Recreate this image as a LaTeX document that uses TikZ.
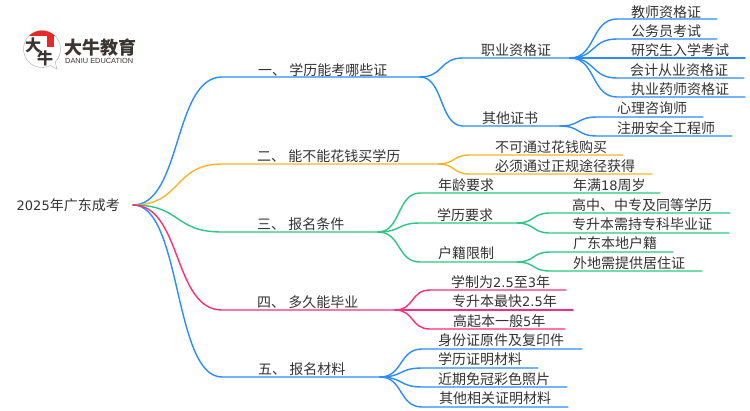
\documentclass[tikz,border=0pt]{standalone}
\usepackage{fontspec}
\usetikzlibrary{calc}
\setmainfont{Noto Sans CJK SC}
\newfontfamily\latinlogo{Liberation Sans}
\newfontfamily\digitfont{DejaVu Sans}
\newcommand{\dg}[1]{{\digitfont\fontsize{13}{14}\selectfont #1}}
\definecolor{mblue}{HTML}{2A8CFF}
\definecolor{morange}{HTML}{FFB327}
\definecolor{mgreen}{HTML}{2CC784}
\definecolor{mpink}{HTML}{FF2D78}
\definecolor{mtext}{HTML}{333333}
\definecolor{logored}{HTML}{E52A2A}
\definecolor{logodark}{HTML}{3A3533}
\tikzset{
  curve/.style={line width=1.4pt,line cap=round},
  lbl/.style={anchor=base west,inner sep=0pt,text=mtext,font=\fontsize{14}{14}\selectfont},
  bubble/.style={draw=black!25,line width=0.6pt,fill=white},
}
% name, parent, colour, start x, y, end x, text x, text y, text
\newcommand{\mmitem}[9]{%
  \coordinate (#1-s) at (#4,#5);
  \coordinate (#1-e) at (#6,#5);
  \draw[curve,#3] let \p1=(#2),\p2=(#1-s),\n1={0.55*(\x2-\x1)} in
    (#2) .. controls ($(\p1)+(\n1,0pt)$) and ($(\p2)-(\n1,0pt)$) .. (#1-s) -- (#1-e);
  \node[lbl] (#1) at (#7,#8+5) {#9};
}
\begin{document}
\begin{tikzpicture}[x=1pt,y=-1pt]
\useasboundingbox (0,0) rectangle (750,410);
\fill[white] (0,0) rectangle (750,410);
% logo
\draw[bubble] (57,69) -- (50.4,65.5) arc[start angle=63,end angle=405,radius=18.5] -- cycle;
\begin{scope}
\clip (42,49) circle[radius=18.5];
\fill[logored] (20,28) rectangle (64,36);
\end{scope}
\fill[logored] (47,36) rectangle (54,47);
\node[inner sep=0pt,text=logodark,font=\fontsize{16}{16}\selectfont\bfseries] (logoa) at (33,45) {大};
\node[inner sep=0pt,text=logodark,font=\fontsize{16}{16}\selectfont\bfseries] (logob) at (45,58) {牛};
\node[anchor=west,inner sep=0pt,text=logodark,font=\fontsize{18}{18}\selectfont\bfseries] (logoc) at (64,48) {大牛教育};
\node[anchor=west,inner sep=0pt,text=logodark,font=\latinlogo\fontsize{7.4}{8}\selectfont] (logod) at (65,60.5) {DANIU EDUCATION};
% root
\node[lbl] (root) at (16.5,210) {\dg{2025}年广东成考};
\coordinate (rootj) at (133,205);
% branch 1
\mmitem{a}{rootj}{mblue}{222}{77}{420}{258}{70}{一、 学历能考哪些证}
\mmitem{aa}{a-e}{mblue}{463}{58}{570}{481}{50}{职业资格证}
\mmitem{aa1}{aa-e}{mblue}{617}{19}{717}{631}{12}{教师资格证}
\mmitem{aa2}{aa-e}{mblue}{617}{39}{717}{631}{31}{公务员考试}
\mmitem{aa3}{aa-e}{mblue}{617}{58}{745}{631}{50}{研究生入学考试}
\mmitem{aa4}{aa-e}{mblue}{617}{78}{744}{630}{70}{会计从业资格证}
\mmitem{aa5}{aa-e}{mblue}{617}{97}{745}{631}{89}{执业药师资格证}
\mmitem{ab}{a-e}{mblue}{463}{126}{560}{482}{118}{其他证书}
\mmitem{ab1}{ab-e}{mblue}{597}{117}{703}{617}{108}{心理咨询师}
\mmitem{ab2}{ab-e}{mblue}{597}{136}{732}{617}{128}{注册安全工程师}
% branch 2
\mmitem{b}{rootj}{morange}{222}{164}{438}{257}{156}{二、 能不能花钱买学历}
\mmitem{b1}{b-e}{morange}{470}{155}{623}{495}{147}{不可通过花钱购买}
\mmitem{b2}{b-e}{morange}{470}{174}{652}{495}{166}{必须通过正规途径获得}
% branch 3
\mmitem{c}{rootj}{mgreen}{222}{232}{378}{257}{224}{三、 报名条件}
\mmitem{ca}{c-e}{mgreen}{420}{193}{660}{438}{185}{年龄要求}
\node[lbl] (ca1) at (573,190) {年满\dg{18}周岁};
\mmitem{cb}{c-e}{mgreen}{420}{223}{517}{437}{215}{学历要求}
\mmitem{cb1}{cb-e}{mgreen}{550}{213}{730}{572}{205}{高中、中专及同等学历}
\mmitem{cb2}{cb-e}{mgreen}{550}{233}{729}{572}{224}{专升本需持专科毕业证}
\mmitem{cc}{c-e}{mgreen}{420}{262}{517}{438}{253}{户籍限制}
\mmitem{cc1}{cc-e}{mgreen}{550}{252}{673}{573}{243}{广东本地户籍}
\mmitem{cc2}{cc-e}{mgreen}{550}{271}{702}{573}{263}{外地需提供居住证}
% branch 5
\mmitem{e}{rootj}{mblue}{222}{377}{380}{258}{369}{五、 报名材料}
\mmitem{e1}{e-e}{mblue}{422}{349}{582}{438}{340}{身份证原件及复印件}
\mmitem{e2}{e-e}{mblue}{422}{368}{538}{438}{359}{学历证明材料}
\mmitem{e3}{e-e}{mblue}{422}{387}{567}{438}{379}{近期免冠彩色照片}
\mmitem{e4}{e-e}{mblue}{422}{407}{568}{439}{398}{其他相关证明材料}
% branch 4
\mmitem{d}{rootj}{mpink}{222}{310}{395}{257}{302}{四、 多久能毕业}
\mmitem{d1}{d-e}{mpink}{430}{290}{566}{451}{282}{学制为\dg{2.5}至\dg{3}年}
\mmitem{d2}{d-e}{mpink}{430}{310}{573}{452}{301}{专升本最快\dg{2.5}年}
\mmitem{d3}{d-e}{mpink}{430}{329}{565}{453}{321}{高起本一般\dg{5}年}
\end{tikzpicture}
\end{document}
